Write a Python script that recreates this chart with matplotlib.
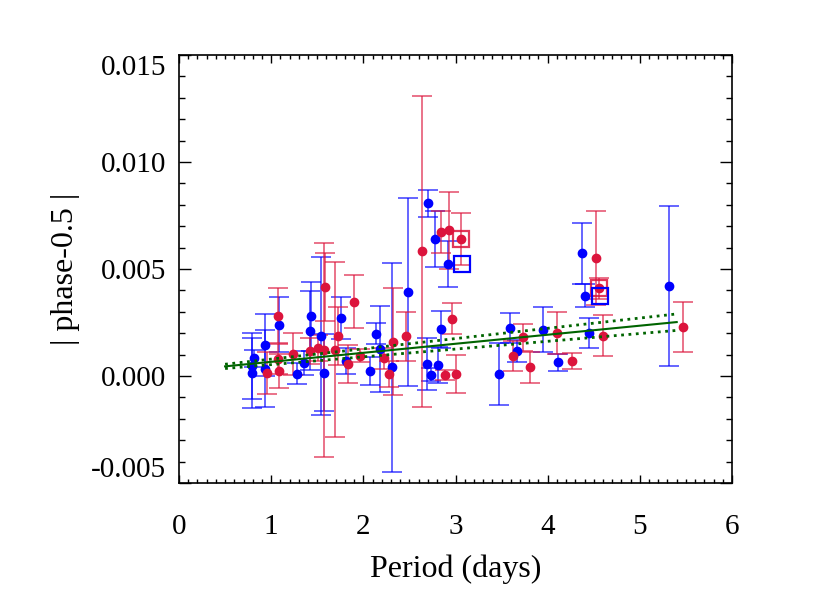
import matplotlib
matplotlib.use("Agg")
import matplotlib.pyplot as plt
from matplotlib.ticker import MultipleLocator

plt.rcParams['font.family'] = ['Liberation Serif', 'DejaVu Serif']

# blue sample: period (days), |phase-0.5|, error
blue_x = [0.81, 0.79, 0.79, 0.93, 0.93, 1.09, 1.275, 1.357, 1.427, 1.423,
          1.546, 1.571, 1.755, 1.81, 2.073, 2.134, 2.178, 2.308, 2.484, 2.70,
          2.781, 2.918, 2.846, 2.69, 2.73, 2.814, 3.474, 3.586, 3.662, 3.947,
          4.114, 4.453, 4.374, 4.406, 5.32]
blue_y = [0.00082, 0.00047, 0.00014, 0.00145, 0.00033, 0.0024, 0.00011, 0.00061, 0.00279, 0.00212,
          0.00188, 0.00015, 0.00271, 0.0007, 0.00025, 0.00198, 0.00126, 0.0004, 0.00394, 0.00807,
          0.00639, 0.00523, 0.00218, 0.00056, 0.00006, 0.00053, 0.00009, 0.00226, 0.00117, 0.00216,
          0.00064, 0.00202, 0.00573, 0.00375, 0.00419]
blue_err = [0.0004, 0.00154, 0.00164, 0.00145, 0.0018, 0.0013, 0.0005, 0.00056, 0.0016, 0.00185,
            0.0037, 0.0018, 0.001, 0.0006, 0.00066, 0.0005, 0.002, 0.0049, 0.0044, 0.00062,
            0.0013, 0.00107, 0.00086, 0.0012, 0.0003, 0.00084, 0.00144, 0.0007, 0.0005, 0.00106,
            0.0004, 0.0007, 0.00143, 0.00053, 0.00374]

# red sample
red_x = [0.95, 1.076, 1.076, 1.09, 1.24, 1.42, 1.51, 1.582, 1.571, 1.69,
         1.72, 1.834, 1.904, 1.96, 2.224, 2.278, 2.322, 2.46, 2.636, 2.846,
         2.928, 3.063, 2.958, 2.882, 3.0, 3.622, 3.735, 3.81, 4.099, 4.261,
         4.605, 4.526, 4.554, 5.468]
red_y = [0.00014, 0.00282, 0.00079, 0.00022, 0.00103, 0.00118, 0.00131, 0.00416, 0.00121, 0.00123,
         0.00188, 0.00057, 0.00347, 0.00095, 0.00083, 0.00008, 0.0016, 0.00185, 0.00583, 0.00674,
         0.00682, 0.0064, 0.00268, 0.00003, 0.00008, 0.00092, 0.00181, 0.00041, 0.00201, 0.0007,
         0.00188, 0.00553, 0.0041, 0.00229]
red_err = [0.001, 0.0013, 0.0007, 0.0008, 0.001, 0.0006, 0.0006, 0.0016, 0.005, 0.0041,
           0.00135, 0.0009, 0.00125, 0.0003, 0.0005, 0.0006, 0.0025, 0.00115, 0.00727, 0.00098,
           0.0018, 0.0012, 0.00073, 0.00023, 0.00088, 0.0007, 0.00064, 0.00072, 0.00096, 0.00039,
           0.00096, 0.0022, 0.00048, 0.00119]

# open squares
red_sq_x = [3.063, 4.554]
red_sq_y = [0.0064, 0.0041]
blue_sq_x = [3.074, 4.569]
blue_sq_y = [0.00523, 0.00375]

# linear fit and its bounds
fit_x = [0.5, 5.4]
fit_y = [0.00045, 0.00252]
fit_hi = [0.00055, 0.0029]
fit_lo = [0.00035, 0.00213]

RED = '#DC143C'
BLUE = '#0000FF'

fig = plt.figure(figsize=(8.31, 6.0), dpi=100)
ax = fig.add_axes([179/831, 117/600, 553/831, 428/600])

ax.errorbar(blue_x, blue_y, yerr=blue_err, fmt='none', ecolor=BLUE, alpha=0.7,
            elinewidth=1.2, capsize=7, capthick=1.2, zorder=2)
ax.errorbar(red_x, red_y, yerr=red_err, fmt='none', ecolor=RED, alpha=0.7,
            elinewidth=1.2, capsize=7, capthick=1.2, zorder=2)
ax.plot(blue_x, blue_y, 'o', color=BLUE, ms=6, zorder=3)
ax.plot(red_x, red_y, 'o', color=RED, ms=6, zorder=3)
ax.plot(red_sq_x, red_sq_y, 's', mfc='none', mec=RED, mew=1.6, ms=12, alpha=0.85, zorder=4)
ax.plot(blue_sq_x, blue_sq_y, 's', mfc='none', mec=BLUE, mew=1.6, ms=12, zorder=4)

ax.plot(fit_x, fit_y, '-', color='#006400', lw=1.5, zorder=5)
ax.plot(fit_x, fit_hi, ':', color='#006400', lw=2, zorder=5)
ax.plot(fit_x, fit_lo, ':', color='#006400', lw=2, zorder=5)

ax.set_xlim(0, 6)
ax.set_ylim(-0.005, 0.015)
ax.xaxis.set_major_locator(MultipleLocator(1))
ax.xaxis.set_minor_locator(MultipleLocator(0.1))
ax.set_yticks([-0.005, 0.0, 0.005, 0.010, 0.015],
              ['-0.005', '0.000', '0.005', '0.010', '0.015'])
ax.yaxis.set_minor_locator(MultipleLocator(0.001))

ax.tick_params(which='both', direction='in', top=True, right=True, labelsize=21, width=1)
ax.tick_params(axis='x', which='major', length=6, pad=22)
ax.tick_params(axis='x', which='minor', length=3)
ax.tick_params(axis='y', which='major', length=8.5, pad=9)
ax.tick_params(axis='y', which='minor', length=4)

ylabels = ax.get_yticklabels()
ylabels[0].set_verticalalignment('bottom')
ylabels[-1].set_verticalalignment('top')

for s in ax.spines.values():
    s.set_linewidth(1.2)

ax.set_xlabel('Period (days)', fontsize=23, labelpad=11)
ax.set_ylabel('| phase-0.5 |', fontsize=23, labelpad=8)

fig.savefig('out.png', dpi=100)
